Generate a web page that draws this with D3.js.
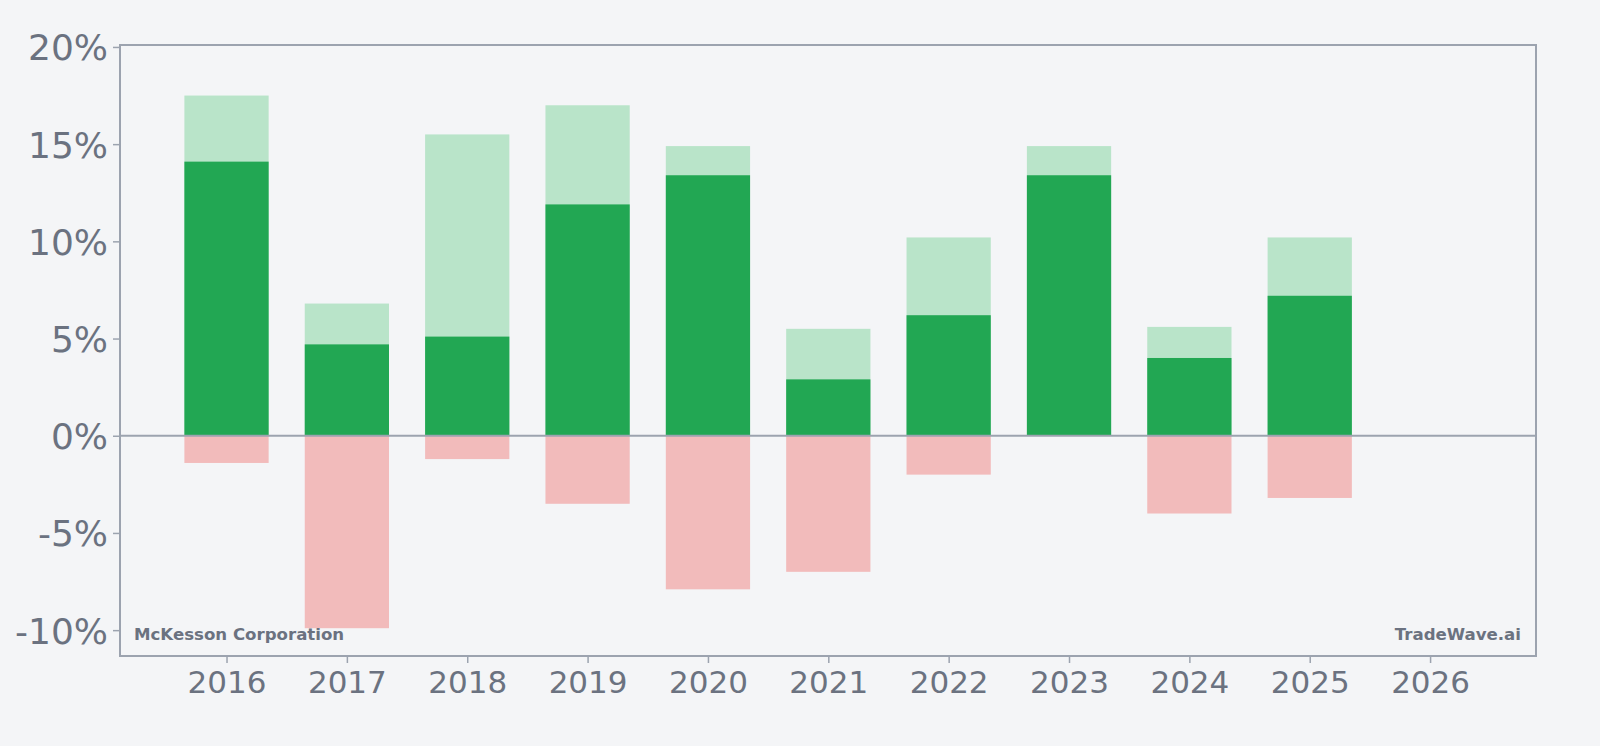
<!DOCTYPE html>
<html>
<head>
<meta charset="utf-8">
<script src="https://cdn.jsdelivr.net/npm/d3@7"></script>
<style>
  html, body { margin: 0; padding: 0; background: #f4f5f7; }
  svg { display: block; }
  text { font-family: "DejaVu Sans", Verdana, sans-serif; }
</style>
</head>
<body>
<svg id="chart" width="1600" height="746"></svg>
<script>
// chart data
var years = [2016, 2017, 2018, 2019, 2020, 2021, 2022, 2023, 2024, 2025];
var highVals = [17.5, 6.8, 15.5, 17.0, 14.9, 5.5, 10.2, 14.9, 5.6, 10.2];
var midVals = [14.1, 4.7, 5.1, 11.9, 13.4, 2.9, 6.2, 13.4, 4.0, 7.2];
var lowVals = [-1.4, -9.9, -1.2, -3.5, -7.9, -7.0, -2.0, 0, -4.0, -3.2];
var yTicks = [-10, -5, 0, 5, 10, 15, 20];
var xTicks = [2016, 2017, 2018, 2019, 2020, 2021, 2022, 2023, 2024, 2025, 2026];

var textColor = "#6b7280";
var frameColor = "#9ca3af";
var fontFam = "'DejaVu Sans', Verdana, sans-serif";

var svg = d3.select("#chart");
var plotL = 120, plotR = 1536, plotT = 45, plotB = 656;

var x = d3.scaleLinear().domain([2015.115, 2026.88]).range([plotL, plotR]);
var y = d3.scaleLinear().domain([-11.33, 20.1]).range([plotB, plotT]);
var barW = x(2016.35) - x(2015.65);

var rows = years.map(function(d, i) {
  return { year: d, high: highVals[i], mid: midVals[i], low: lowVals[i] };
});

var g = svg.append("g");

// light green (upper range)
g.selectAll("rect.high").data(rows).enter().append("rect")
  .attr("class", "high")
  .attr("x", function(d) { return x(d.year) - barW / 2; })
  .attr("width", barW)
  .attr("y", function(d) { return y(d.high); })
  .attr("height", function(d) { return y(0) - y(d.high); })
  .attr("fill", "#b9e4c9");

// dark green
g.selectAll("rect.mid").data(rows).enter().append("rect")
  .attr("class", "mid")
  .attr("x", function(d) { return x(d.year) - barW / 2; })
  .attr("width", barW)
  .attr("y", function(d) { return y(d.mid); })
  .attr("height", function(d) { return y(0) - y(d.mid); })
  .attr("fill", "#22a753");

// pink (negative)
g.selectAll("rect.low").data(rows.filter(function(d) { return d.low < 0; })).enter().append("rect")
  .attr("class", "low")
  .attr("x", function(d) { return x(d.year) - barW / 2; })
  .attr("width", barW)
  .attr("y", y(0))
  .attr("height", function(d) { return y(d.low) - y(0); })
  .attr("fill", "#f2bbbb");

// zero line
svg.append("line")
  .attr("x1", plotL).attr("x2", plotR)
  .attr("y1", y(0)).attr("y2", y(0))
  .attr("stroke", frameColor).attr("stroke-width", 2);

// frame
svg.append("rect")
  .attr("x", plotL).attr("y", plotT)
  .attr("width", plotR - plotL).attr("height", plotB - plotT)
  .attr("fill", "none").attr("stroke", frameColor).attr("stroke-width", 2);

// y axis
var yAxis = svg.append("g")
  .attr("transform", "translate(" + plotL + ",0)")
  .call(d3.axisLeft(y).tickValues(yTicks).tickSize(7).tickPadding(5)
    .tickFormat(function(d) { return d + "%"; }));
yAxis.attr("font-family", fontFam);
yAxis.select(".domain").remove();
yAxis.selectAll(".tick line").attr("stroke", frameColor).attr("stroke-width", 1.5);
yAxis.selectAll(".tick text").attr("fill", textColor).attr("font-size", 36)
  .attr("dy", "0.36em");

// x axis
var xAxis = svg.append("g")
  .attr("transform", "translate(0," + plotB + ")")
  .call(d3.axisBottom(x).tickValues(xTicks).tickSize(7).tickPadding(5)
    .tickFormat(d3.format("d")));
xAxis.attr("font-family", fontFam);
xAxis.select(".domain").remove();
xAxis.selectAll(".tick line").attr("stroke", frameColor).attr("stroke-width", 1.5);
xAxis.selectAll(".tick text").attr("fill", textColor).attr("font-size", 31)
  .attr("dy", "0.8em");

// watermarks
svg.append("text")
  .attr("x", 134).attr("y", 640)
  .attr("font-family", fontFam)
  .attr("fill", textColor).attr("font-size", 16.6).attr("font-weight", "bold")
  .text("McKesson Corporation");
svg.append("text")
  .attr("x", 1521).attr("y", 640).attr("text-anchor", "end")
  .attr("font-family", fontFam)
  .attr("fill", textColor).attr("font-size", 16.6).attr("font-weight", "bold")
  .text("TradeWave.ai");
</script>
</body>
</html>
